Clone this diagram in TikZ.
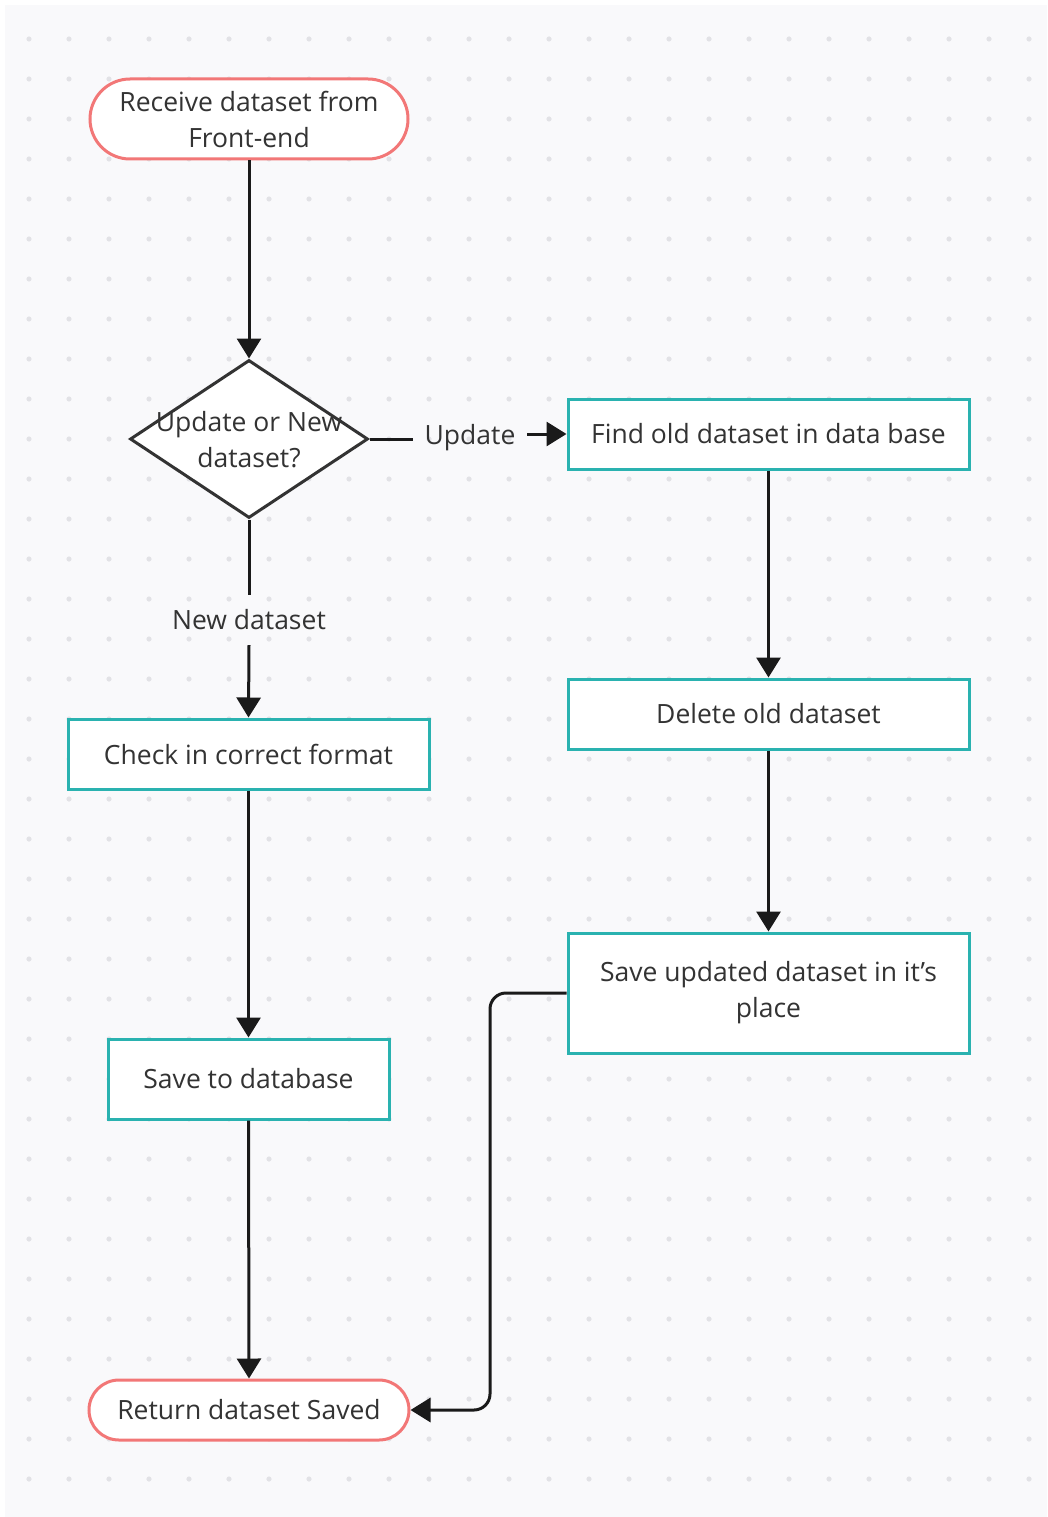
\documentclass[tikz,border=0pt]{standalone}
\usepackage{fontspec}
\setmainfont{Open Sans}
\usetikzlibrary{shapes.geometric,arrows.meta,calc}
\definecolor{bgc}{HTML}{F9F9FB}
\definecolor{dotc}{HTML}{E2E2E6}
\definecolor{teal}{HTML}{2AB2B0}
\definecolor{redc}{HTML}{F27777}
\definecolor{txtc}{HTML}{333333}
\definecolor{linec}{HTML}{1A1A1A}
\definecolor{diac}{HTML}{333333}
\tikzset{
  basefont/.style={font=\fontsize{26.5}{36}\selectfont, text=txtc, align=center},
  terminal/.style={basefont, draw=redc, line width=3pt, fill=white, rounded corners=40pt, minimum width=318pt, minimum height=80pt, inner sep=0pt},
  terminalb/.style={basefont, draw=redc, line width=3pt, fill=white, rounded corners=30pt, minimum width=320pt, minimum height=60pt, inner sep=0pt},
  procbox/.style={basefont, draw=teal, line width=3pt, fill=white, inner sep=0pt},
  decision/.style={diamond, draw=diac, line width=3pt, fill=white, minimum width=238pt, minimum height=158pt, inner sep=0pt},
  lbl/.style={basefont, inner sep=0pt},
  conn/.style={draw=linec, line width=3pt},
  arr/.style={conn, -{Triangle[length=20pt,width=24pt]}}
}
\begin{document}
\begin{tikzpicture}[x=1pt,y=-1pt]
\useasboundingbox (0,0) rectangle (1047,1517);
\fill[white] (0,0) rectangle (1047,1517);
\fill[bgc] (5,5) rectangle (1047,1517);
\foreach \i in {0,...,25}{
  \foreach \j in {0,...,36}{
    \fill[dotc] (29+40*\i,39+40*\j) circle[radius=2.6pt];
  }
}
% nodes
\node[terminal] (start) at (249,119) {Receive dataset from\\Front-end};
\node[decision] (dec) at (249,439) {};
\node[lbl] (dect) at (249,440) {Update or New\\dataset?};
\node[procbox, minimum width=401pt, minimum height=70pt] (find) at (768.5,434) {Find old dataset in data base};
\node[procbox, minimum width=401pt, minimum height=70pt] (del) at (768.5,714) {Delete old dataset};
\node[procbox, minimum width=401pt, minimum height=120pt] (sup) at (768.5,993) {Save updated dataset in it’s\\place};
\node[procbox, minimum width=361pt, minimum height=70pt] (chk) at (248.5,754) {Check in correct format};
\node[procbox, minimum width=281pt, minimum height=80pt] (sdb) at (248.5,1079) {Save to database};
\node[terminalb] (ret) at (249,1410) {Return dataset Saved};
% labels on connectors
\node[lbl, minimum width=114pt, minimum height=30pt] (updl) at (470,438) {Update};
\node[lbl, minimum width=160pt, minimum height=50pt] (newl) at (249,620) {New dataset};
\coordinate (bend) at (490,0);
% connectors
\draw[arr] (start.south) -- (dec.north);
\draw[conn] (dec.east) -- (dec.east -| updl.west);
\draw[arr] (updl.east |- find.west) -- (find.west);
\draw[conn] (dec.south) -- (newl.north);
\draw[arr] (newl.south) -- (chk.north);
\draw[arr] (find.south) -- (del.north);
\draw[arr] (del.south) -- (sup.north);
\draw[arr] (chk.south) -- (sdb.north);
\draw[arr] (sdb.south) -- (ret.north);
\draw[arr, rounded corners=16pt] (sup.west) -- (bend |- sup.west) -- (bend |- ret.east) -- (ret.east);
\end{tikzpicture}
\end{document}
